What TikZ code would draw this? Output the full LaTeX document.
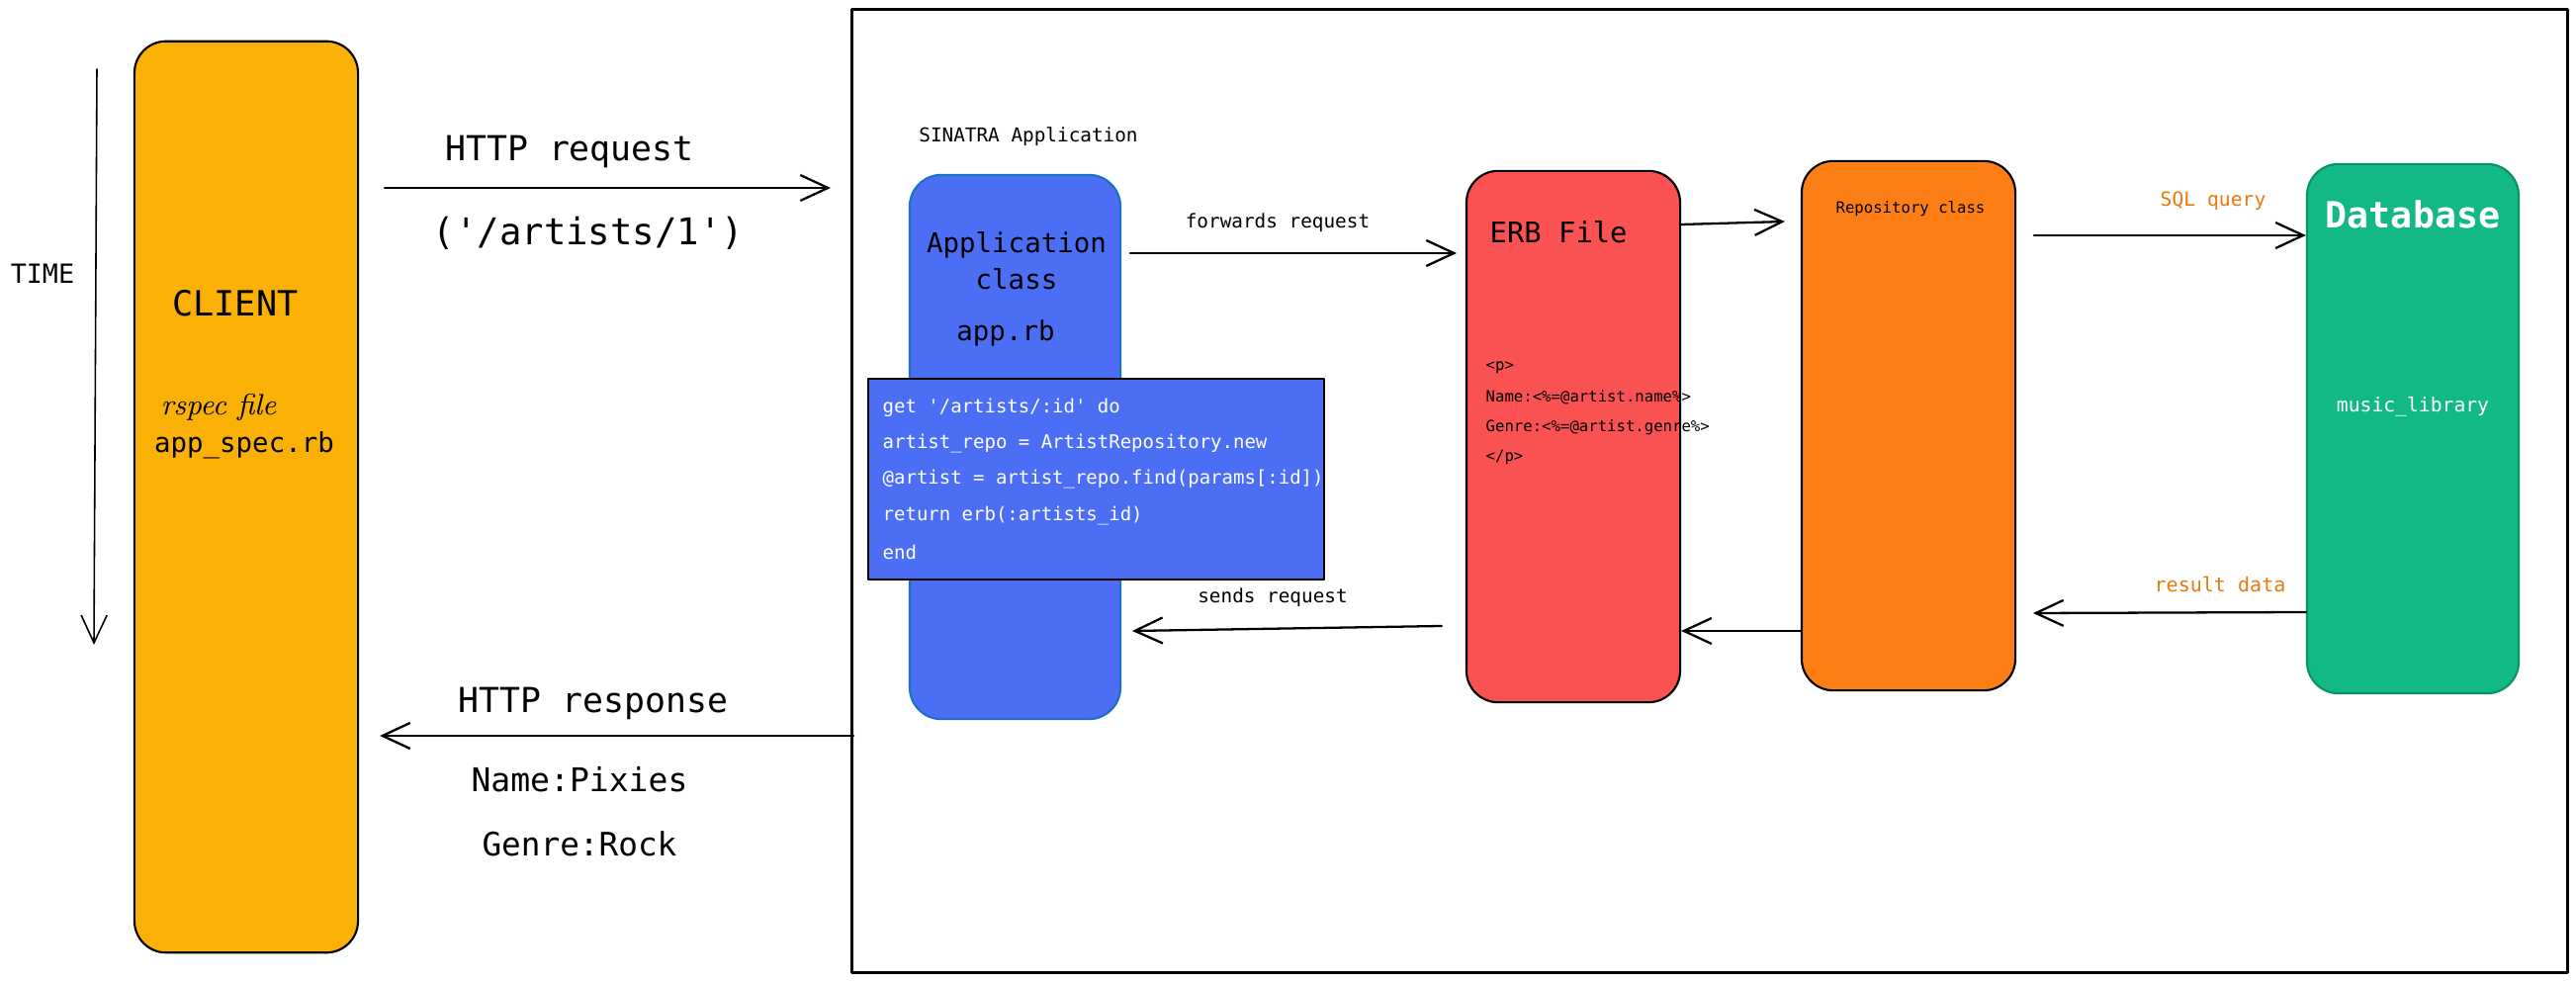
\documentclass[tikz,border=0pt]{standalone}
\usepackage{fontspec}
\setmonofont{DejaVu Sans Mono}
\usetikzlibrary{arrows.meta}
\definecolor{clientcol}{HTML}{FAB005}
\definecolor{appcol}{HTML}{4C6EF5}
\definecolor{appline}{HTML}{1971C2}
\definecolor{erbcol}{HTML}{FA5252}
\definecolor{repocol}{HTML}{FD7E14}
\definecolor{dbcol}{HTML}{12B886}
\definecolor{dbline}{HTML}{099268}
\definecolor{labelcol}{HTML}{E8790C}

\begin{document}
\begin{tikzpicture}[line cap=round,line join=round,x=0.01cm,y=-0.01cm,
	txt/.style={font=\ttfamily\fontsize{#1}{#1}\selectfont, inner sep=0pt},
	lane/.style={draw, line width=0.6pt, rounded corners=0.32cm, inner sep=0pt},
	flow/.style={-{Straight Barb[length=2.8mm,width=2.6mm]}, line width=0.65pt}]
			\useasboundingbox (0,0) rectangle (2605,995);
			\node [draw, line width=0.85pt, minimum width=17.34cm, minimum height=9.73cm, inner sep=0pt] (sinatra) at (1729,496.5) {};
			\node [lane, fill=clientcol, minimum width=2.26cm, minimum height=9.21cm] (client) at (249,502.5) {};
			\node [lane, draw=appline, fill=appcol, minimum width=2.13cm, minimum height=5.5cm] (app) at (1026.5,452) {};
			\node [lane, fill=erbcol, minimum width=2.16cm, minimum height=5.37cm] (erb) at (1591,441.5) {};
			\node [lane, fill=repocol, minimum width=2.16cm, minimum height=5.35cm] (repo) at (1930,430.5) {};
			\node [lane, draw=dbline, fill=dbcol, minimum width=2.14cm, minimum height=5.35cm] (db) at (2440,433.5) {};
			\node [draw, line width=0.7pt, fill=appcol, minimum width=4.61cm, minimum height=2.03cm, inner sep=0pt] (code) at (1108.5,484.5) {};
			\node [txt=7.6] (time) at (43,277) {TIME};
			\node [txt=10] (clientlbl) at (238,307) {CLIENT};
			\node [font=\itshape\fontsize{8.5}{8.5}\selectfont, inner sep=0pt] (rspec) at (221,412) {rspec file};
			\node [txt=7.8] (spec) at (247,450) {app\_spec.rb};
			\node [txt=9.9] (req) at (576,153) {HTTP request};
			\node [txt=10.6] (path) at (595,236) {('/artists/1')};
			\node [txt=9.9] (resp) at (600,711) {HTTP response};
			\node [txt=9.4] (name) at (586,788) {Name:Pixies};
			\node [txt=9.3] (genre) at (586,853) {Genre:Rock};
			\node [txt=5.5] (sinatralbl) at (1040,138) {SINATRA Application};
			\node [txt=7.8] (applbl) at (1028,248) {Application};
			\node [txt=7.8] (classlbl) at (1028,282) {class};
			\node [txt=7.8] (apprb) at (1017,337) {app.rb};
			\foreach \ln [count=\i] in {{get '/artists/:id' do}, {artist\_repo = ArtistRepository.new}, {@artist = artist\_repo.find(params[:id])}, {return erb(:artists\_id)}, {end}}
				\node [txt=5.4, text=white, anchor=west] (code\i) at (892,{412+(\i-1)*36.5}) {\ln};
			\node [txt=8.2, anchor=west] (erblbl) at (1506,235) {ERB File};
			\foreach \ln [count=\i] in {{<p>}, {Name:<\%=@artist.name\%>}, {Genre:<\%=@artist.genre\%>}, {</p>}}
				\node [txt=4.45, anchor=west] (erb\i) at (1502,{372+(\i-1)*30}) {\ln};
			\node [txt=4.45] (repolbl) at (1932,211) {Repository class};
			\node [font=\ttfamily\bfseries\fontsize{10.4}{10.4}\selectfont, text=white, inner sep=0pt] (dblbl) at (2440,217) {Database};
			\node [txt=5.6, text=white] (lib) at (2440,411) {music\_library};
			\node [txt=5.5] (fwd) at (1292,225) {forwards request};
			\node [txt=5.5] (sends) at (1287,604) {sends request};
			\node [txt=5.6, text=labelcol] (sql) at (2238,203) {SQL query};
			\node [txt=5.7, text=labelcol] (result) at (2245,591) {result data};
			\coordinate (timeA) at (98,70);
			\coordinate (timeB) at (95,652);
			\coordinate (reqA) at (389,190);
			\coordinate (reqB) at (840,190);
			\coordinate (respA) at (863,744);
			\coordinate (respB) at (384,744);
			\coordinate (fwdA) at (1143,256);
			\coordinate (fwdB) at (1473,256);
			\coordinate (toRepo) at (1805,224);
			\coordinate (sqlA) at (2057,238);
			\coordinate (resB) at (2056,620);
			\coordinate (sendA) at (1458,633);
			\coordinate (sendB) at (1145,638);
			\draw [flow, line width=0.45pt] (timeA) -- (timeB);
			\draw [flow] (reqA) -- (reqB);
			\draw [flow] (respA) -- (respB);
			\draw [flow] (fwdA) -- (fwdB);
			\draw [flow] (erb.east |- 0,227) -- (toRepo);
			\draw [flow] (sqlA) -- (db.west |- sqlA);
			\draw [flow] (db.west |- 0,619) -- (resB);
			\draw [flow] (repo.west |- 0,638) -- (erb.east |- 0,638);
			\draw [flow] (sendA) -- (sendB);
\end{tikzpicture}
\end{document}
